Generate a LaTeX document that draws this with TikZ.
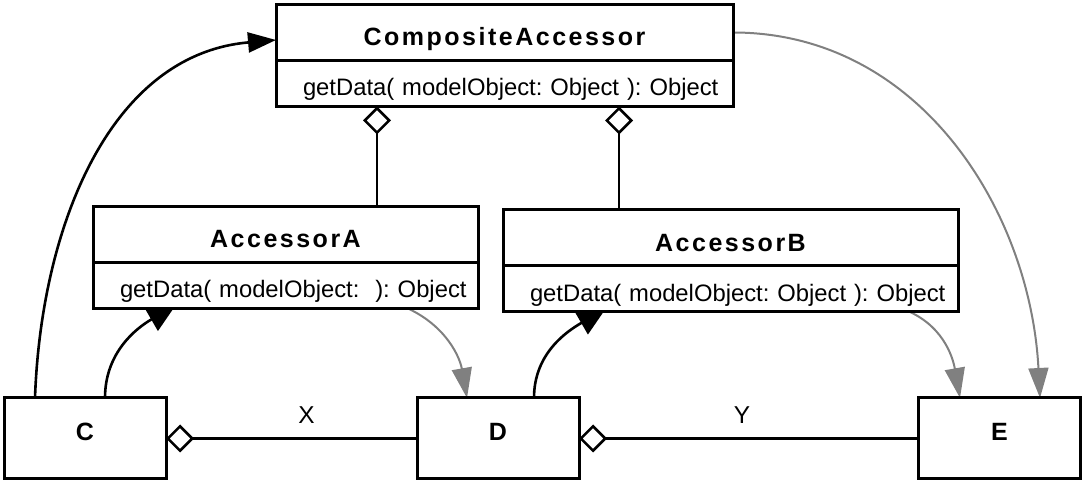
\documentclass[tikz,border=0pt]{standalone}
\usepackage{fontspec}
\setmainfont{Liberation Sans}
\newfontfamily\clsfont[LetterSpace=10]{Liberation Sans}
\usetikzlibrary{arrows.meta, positioning, calc, backgrounds}
\newcommand{\opline}[1]{\mbox{\frenchspacing\hspace{13.5pt}#1}}

\begin{document}
\begin{tikzpicture}[
    x=0.5pt, y=0.5pt,
    cls/.style={draw, line width=1.5pt, fill=white, outer sep=0pt, minimum width=#1, minimum height=28pt, text height=15.5pt, text depth=2pt, font=\clsfont\bfseries\fontsize{12.5}{15}\selectfont},
    ops/.style={draw, line width=1.5pt, fill=white, outer sep=0pt, text width=#1, inner xsep=0pt, minimum height=23pt, text height=14pt, text depth=1.7pt, align=left, font=\fontsize{11.9}{14}\selectfont},
    obj/.style={draw, line width=1.5pt, fill=white, outer sep=0pt, minimum width=81pt, minimum height=40.5pt, text depth=6.5pt, font=\clsfont\bfseries\fontsize{12.5}{15}\selectfont},
    agg/.style={{Diamond[open, length=14pt, width=14pt]}-, line width=1.3pt},
    arr/.style={-{Triangle[length=14pt, width=#1]}, line width=1.3pt},
    arr/.default=13pt,
    dep/.style={-{Triangle[length=15pt, width=10pt]}, line width=1pt, gray}
]
\useasboundingbox (0,0) rectangle (1082,-480);
\node[cls=228.5pt] (ca) at (504.5,-32.5) {CompositeAccessor};
\node[ops=228.5pt, below=0pt of ca] (caop) {\opline{getData( modelObject: Object ): Object}};
\node[cls=192.5pt] (a) at (285.5,-234.5) {AccessorA};
\node[ops=192.5pt, below=0pt of a] (aop) {\opline{getData( modelObject:\ \ ): Object}};
\node[cls=227.5pt] (b) at (730.5,-238) {AccessorB};
\node[ops=227.5pt, below=0pt of b] (bop) {\opline{getData( modelObject: Object ): Object}};
\node[obj] (c) at (85,-438.5) {C};
\node[obj] (d) at (498,-438.5) {D};
\node[obj] (e) at (999.5,-438.5) {E};
\begin{scope}[on background layer]
\draw[agg] ($(caop.south)+(-127.5,0)$) -- ($(a.north)+(91.5,0)$);
\draw[agg] ($(caop.south)+(114.5,0)$) -- ($(b.north)+(-111.5,0)$);
\foreach \s/\t/\l/\p in {c/d/X/0.56, d/e/Y/0.48}
    \draw[agg] (\s) -- node[above=3.5pt, pos=\p, font=\fontsize{12.2}{14}\selectfont] {\l} (\t);
\draw[arr=10pt] ($(c.north)+(-50,0)$) to[out=88, in=185] ($(ca.west)+(0,-7.5)$);
\draw[arr] ($(c.north)+(20,0)$) to[out=90, in=210] ($(aop.south)+(-110,3)$);
\draw[arr] ($(d.north)+(36,0)$) to[out=90, in=210] ($(bop.south)+(-125,3)$);
\draw[dep] ($(aop.south)+(122.5,0)$) to[out=-25, in=100] ($(d.north)+(-31,0)$);
\draw[dep] ($(bop.south)+(179.5,0)$) to[out=-25, in=100] ($(e.north)+(-39.5,0)$);
\draw[dep] (ca.east) to[out=0, in=93] ($(e.north)+(40.5,0)$);
\end{scope}
\end{tikzpicture}
\end{document}
